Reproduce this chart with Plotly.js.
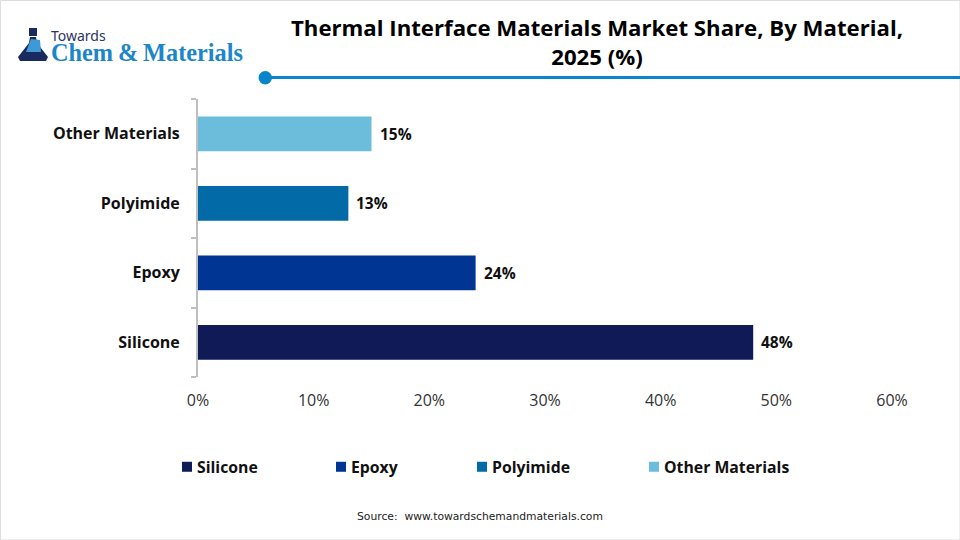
<!DOCTYPE html>
<html><head><meta charset="utf-8">
<script src="https://cdn.plot.ly/plotly-3.0.1.min.js"></script>
<style>html,body{margin:0;padding:0;background:#fff}#c{width:960px;height:540px}</style>
</head><body><div id="c"></div>
<script>
const categories = ["Silicone","Epoxy","Polyimide","Other Materials"];
const shares = [48,24,13,15];
const colors = ["#0F1A56","#003594","#026AA7","#6BBDDB"];
const xTicks = [0,10,20,30,40,50,60];
const legendWidths = [109,96,127,130];
const FONT = '"Open Sans", sans-serif';
const L=198,T=99,W=694,H=278;
const px = v => (v-L)/W;
const py = v => 1-(v-T)/H;
const traces = categories.map((c,i)=>({
  type:'bar',orientation:'h',name:c,
  x:[shares[i]],y:[c],width:0.5,
  marker:{color:colors[i]},
  legendwidth:legendWidths[i],
  hoverinfo:'x+name'
}));
const valueLabels = categories.map((c,i)=>({
  text:shares[i]+'%',x:shares[i],y:c,xref:'x',yref:'y',xanchor:'left',yanchor:'middle',xshift:6,yshift:0,showarrow:false,
  font:{family:FONT,size:15.5,color:'#111',weight:700}
}));
const layout = {
  width:960,height:540,paper_bgcolor:'#fff',plot_bgcolor:'#fff',
  margin:{l:L,r:960-L-W,t:T,b:540-T-H,pad:0},
  barmode:'overlay',
  font:{family:FONT,color:'#111'},
  title:{text:'Thermal Interface Materials Market Share, By Material,<br>2025 (%)',
    font:{family:FONT,size:22.2,color:'#000',weight:700},
    x:597/960,xanchor:'center',y:0.933,yanchor:'middle'},
  xaxis:{range:[0,60],tickvals:xTicks,ticktext:xTicks.map(v=>v+'%'),showgrid:false,zeroline:false,showline:false,ticks:'',
    tickfont:{family:FONT,size:16,color:'#333'},ticklabelstandoff:12},
  yaxis:{type:'category',categoryorder:'array',categoryarray:categories,showgrid:false,zeroline:false,
    showline:true,linecolor:'#BFBFBF',linewidth:2,ticks:'outside',ticklen:5,tickcolor:'#BFBFBF',tickwidth:2,tickson:'boundaries',
    tickfont:{family:FONT,size:16,color:'#111',weight:700},ticklabelstandoff:13},
  showlegend:true,
  legend:{orientation:'h',x:px(157),xanchor:'left',y:py(467),yanchor:'middle',
    traceorder:'normal',
    font:{family:FONT,size:15.8,color:'#111',weight:700},itemclick:false,itemdoubleclick:false},
  shapes:[
    {type:'rect',xref:'paper',yref:'paper',x0:px(0.5),x1:px(960),y0:py(0.5),y1:py(540),line:{color:'#DDDDDD',width:1},fillcolor:'rgba(0,0,0,0)',layer:'below'},
    {type:'line',xref:'paper',yref:'paper',x0:px(265),x1:px(960),y0:py(77.5),y1:py(77.5),line:{color:'#0A85C9',width:3}},
    {type:'circle',xref:'paper',yref:'paper',x0:px(258.5),x1:px(272),y0:py(71),y1:py(84.5),fillcolor:'#0A85C9',line:{width:0}},
    // logo flask
    {type:'rect',xref:'paper',yref:'paper',x0:px(29),x1:px(37),y0:py(28),y1:py(36),fillcolor:'#1B2A5E',line:{width:0}},
    {type:'path',xref:'paper',yref:'paper',
      path:`M ${px(30)} ${py(37)} L ${px(36)} ${py(37)} L ${px(37)} ${py(43)} L ${px(48)} ${py(57)} L ${px(46)} ${py(61)} L ${px(20)} ${py(61)} L ${px(18)} ${py(57)} L ${px(29)} ${py(43)} Z`,
      fillcolor:'#1B2A5E',line:{width:0}},
    {type:'path',xref:'paper',yref:'paper',
      path:`M ${px(31)} ${py(39)} L ${px(40)} ${py(40)} L ${px(41)} ${py(52)} L ${px(26)} ${py(52)} L ${px(29)} ${py(44)} Z`,
      fillcolor:'#3E9AD6',line:{width:0}}
  ],
  annotations:[
    {text:'<span style="font-size:14px;color:#2A3560;font-family:Noto Sans">Towards</span><br><span style="font-size:24.3px;color:#1C86C8;font-family:Liberation Serif;font-weight:700">Chem\u2009&amp;\u2009Materials</span>',
      xref:'paper',yref:'paper',x:px(49),y:py(45.5),xanchor:'left',yanchor:'middle',align:'left',showarrow:false,
      font:{family:FONT,size:15.4,color:'#1C86C8'}},
    {text:'Source:  www.towardschemandmaterials.com',xref:'paper',yref:'paper',x:px(480),y:py(516),xanchor:'center',yanchor:'middle',showarrow:false,
      font:{family:'"DejaVu Sans", sans-serif',size:10.75,color:'#222'}},
    ...valueLabels
  ]
};
const gd = document.getElementById('c');
function tuneLegendSwatches(){
  gd.querySelectorAll('.legend .legendpoints path').forEach(p=>{
    p.setAttribute('d','M5,5H-5V-5H5Z');
    p.setAttribute('transform','translate(30,0)');
    p.style.transform='translate(30px,0)';
  });
}
Plotly.newPlot(gd,traces,layout,{displayModeBar:false,staticPlot:true}).then(()=>{
  tuneLegendSwatches();
  gd.on('plotly_afterplot',tuneLegendSwatches);
  setTimeout(tuneLegendSwatches,50);
});
</script></body></html>
